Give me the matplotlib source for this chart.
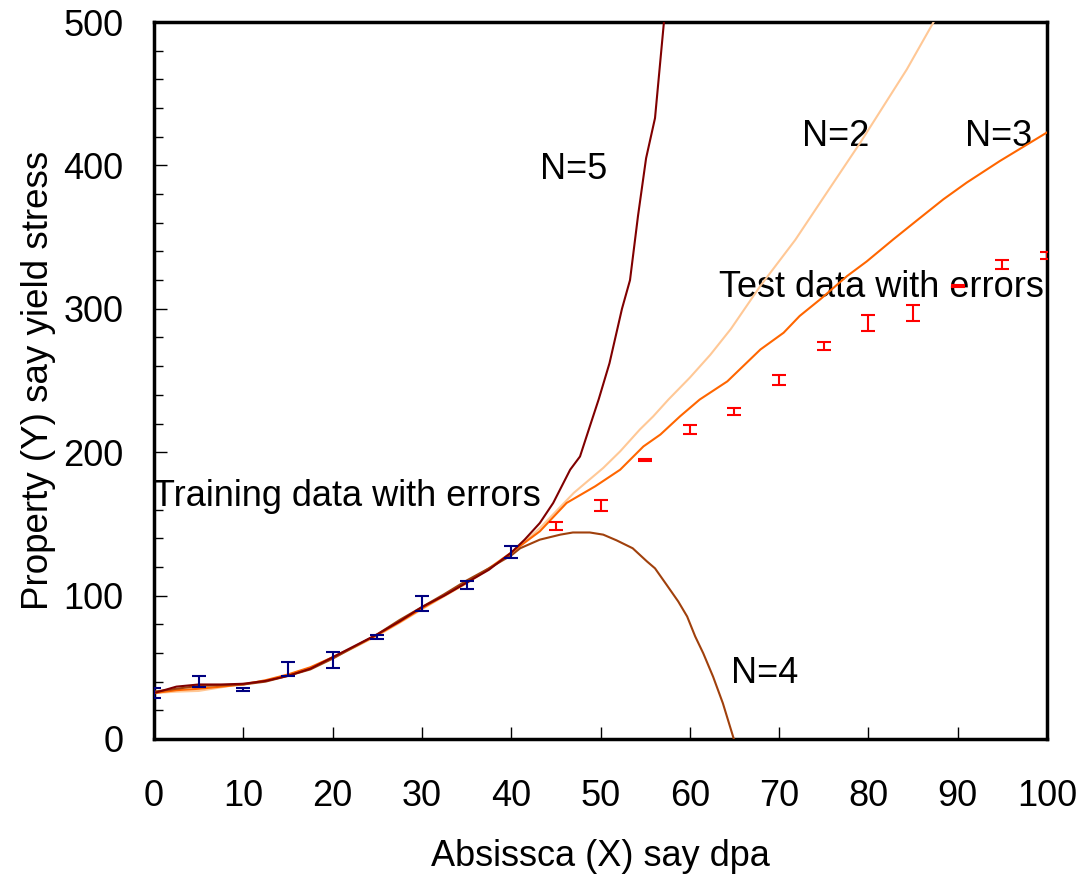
import matplotlib
matplotlib.use("Agg")
import matplotlib.pyplot as plt
from matplotlib.ticker import MultipleLocator

plt.rcParams["font.family"] = ["Liberation Sans", "DejaVu Sans"]

# training data (blue) and test data (red)
train_x = [0, 5, 10, 15, 20, 25, 30, 35, 40]
train_y = [32, 40, 34.5, 49, 55, 71, 94.5, 107.5, 130.5]
train_err = [3.5, 4, 1, 5, 5.5, 1.5, 5, 3, 4]

test_x = [45, 50, 55, 60, 65, 70, 75, 80, 85, 90, 95, 100]
test_y = [148.3, 162.8, 194.8, 216, 228.4, 250.2, 274, 290.3, 297, 316, 331, 337.3]
test_err = [2.8, 4, 0.7, 3, 2.2, 3.5, 3, 5.6, 5.6, 0.5, 3, 2.3]

# model fits, one per number of hidden units
fit_x_train = [0, 2.5, 5, 7.5, 10, 12.5, 15, 17.5, 20, 22.5, 25, 27.5, 30,
               32.5, 35, 37.5, 40]

n2_x = fit_x_train + [43.2, 47, 50.3, 52.2, 54.4, 55.9, 57.6, 60, 62.3, 64.6,
                      67.9, 71.8, 74.8, 79.1, 84.3, 87.3, 88.5]
n2_y = [32, 33, 33.5, 36, 38.5, 40.5, 44.5, 49.5, 56.5, 64, 72, 81, 90.5,
        99.5, 108.5, 118.5, 129.5,
        147, 171.6, 189, 200.6, 215.8, 225, 236.7, 252, 268, 286,
        316, 348, 376, 416, 467, 500, 512]

n3_x = fit_x_train + [43.2, 46.2, 49.4, 52.2, 54.8, 56.7, 58.9, 61.1, 64.2,
                      67.9, 70.5, 72.3, 74.6, 77.6, 79.8, 82.8, 85.5,
                      88.4, 91, 94.7, 100]
n3_y = [32, 34, 35, 36.5, 38, 41, 45, 50, 57, 64.5, 72.5, 81.5, 91, 100,
        109, 119, 130,
        144.8, 164.6, 176.2, 187.8, 204, 212.3, 225, 236.7, 249.4,
        271.6, 283.3, 295, 306.6, 322.8, 333, 348.5, 362,
        376.4, 388, 403, 423]

n4_x = fit_x_train + [41, 43.2, 45.5, 46.9, 48.8, 50.3, 51.8, 53.6, 55.2,
                      56.1, 57.4, 58.7, 59.7, 60.6, 61.5, 62.6, 63.7, 64.9,
                      65.2]
n4_y = [33, 35, 37, 37.5, 38, 40, 44, 48.5, 56, 64.5, 73, 83, 92, 101,
        110.5, 119, 128,
        133, 139, 142.5, 144, 144, 142.5, 138.5, 133, 123.8,
        119, 107.5, 95.9, 85.4, 71.5, 59.8, 43.5, 24.9, 0.5, -5]

n5_x = fit_x_train + [41.5, 43.2, 44.7, 46.6, 47.7, 48.8, 49.8, 51, 52.4,
                      53.3, 54.2, 55.1, 56.1, 57.1, 57.5]
n5_y = [32, 36.5, 38, 38, 38.5, 40.5, 44, 49, 57, 65, 73, 82, 92, 100,
        109, 118, 130,
        139, 150.6, 164.6, 187.8, 197, 218, 237, 262, 300,
        320, 365, 405, 433, 500, 530]

C_N2 = "#ffc896"
C_N3 = "#ff6600"
C_N4 = "#a0400c"
C_N5 = "#800000"
C_TRAIN = "#000080"
C_TEST = "#ff0000"
FS = 26

fig = plt.figure(figsize=(10.91, 8.74), dpi=100)
ax = fig.add_axes([0.1412, 0.1545, 0.8185, 0.8203])

ax.plot(n2_x, n2_y, color=C_N2, lw=1.5, zorder=3)
ax.plot(n3_x, n3_y, color=C_N3, lw=1.5, zorder=3)
ax.plot(n4_x, n4_y, color=C_N4, lw=1.5, zorder=3)
ax.plot(n5_x, n5_y, color=C_N5, lw=1.5, zorder=3)

ax.errorbar(train_x, train_y, yerr=train_err, fmt="none", ecolor=C_TRAIN,
            elinewidth=1.5, capsize=5, capthick=1.5, zorder=4)
ax.errorbar(test_x, test_y, yerr=test_err, fmt="none", ecolor=C_TEST,
            elinewidth=1.5, capsize=5, capthick=1.5, zorder=4)

ax.text(43.2, 390.4, "N=5", fontsize=FS, zorder=1)
ax.text(72.6, 413.6, "N=2", fontsize=FS, zorder=1)
ax.text(90.8, 413.6, "N=3", fontsize=FS, zorder=1)
ax.text(64.6, 39.3, "N=4", fontsize=FS, zorder=1)
ax.text(-0.1, 162.5, "Training data with errors", fontsize=FS, zorder=1)
ax.text(63.3, 308, "Test data with errors", fontsize=FS, zorder=1)

ax.set_xlim(0, 100)
ax.set_ylim(0, 500)
ax.xaxis.set_major_locator(MultipleLocator(10))
ax.yaxis.set_major_locator(MultipleLocator(100))
ax.yaxis.set_minor_locator(MultipleLocator(20))
ax.tick_params(axis="x", which="major", direction="in", length=9, width=1,
               labelsize=FS, pad=29)
ax.tick_params(axis="y", which="major", direction="in", length=9, width=1,
               labelsize=FS, pad=22)
ax.tick_params(axis="y", which="minor", direction="in", length=6.5, width=1)
for sp in ax.spines.values():
    sp.set_linewidth(2.5)
    sp.set_color("black")

ax.set_xlabel("Absissca (X) say dpa", fontsize=FS, labelpad=18)
ax.set_ylabel("Property (Y) say yield stress", fontsize=FS, labelpad=5)
ax.yaxis.label.set_fontsize(26.5)

fig.savefig("out.png", dpi=100)
